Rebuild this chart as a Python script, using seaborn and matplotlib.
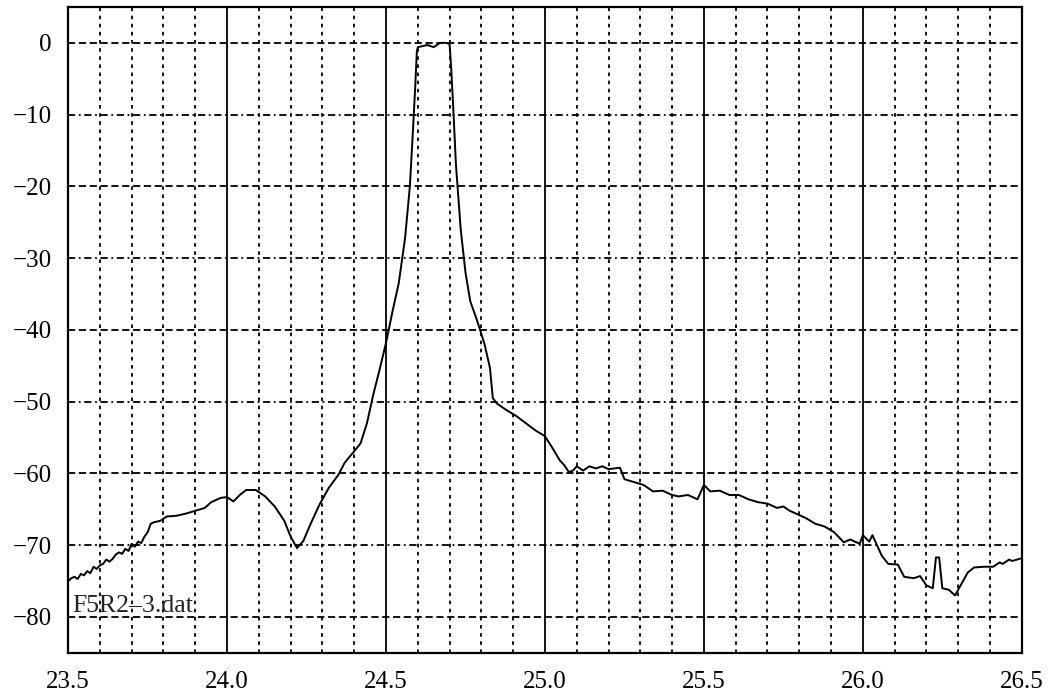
import numpy as np
import pandas as pd
import matplotlib
matplotlib.use("Agg")
import matplotlib.pyplot as plt
import seaborn as sns
from matplotlib.ticker import MultipleLocator, FormatStrFormatter

# spectrum (GHz, dB)
freq = [23.50, 23.51, 23.52, 23.53, 23.54, 23.55, 23.56, 23.57, 23.58, 23.59,
        23.60, 23.61, 23.62, 23.63, 23.64, 23.65, 23.66, 23.67, 23.68, 23.69,
        23.70, 23.71, 23.72, 23.73, 23.74, 23.75, 23.76, 23.77, 23.79, 23.81,
        23.84, 23.87, 23.90, 23.93, 23.95, 23.96, 23.98, 24.00, 24.02, 24.04,
        24.06, 24.09, 24.12, 24.15, 24.18, 24.20, 24.22, 24.24, 24.26, 24.29,
        24.32, 24.35, 24.37, 24.40, 24.42, 24.44, 24.46, 24.48, 24.50, 24.52,
        24.54, 24.56, 24.575, 24.585, 24.592, 24.597, 24.60, 24.63, 24.65, 24.67,
        24.69, 24.70, 24.705, 24.712, 24.72, 24.735, 24.75, 24.765, 24.785, 24.796,
        24.81, 24.827, 24.836, 24.85, 24.88, 24.91, 24.94, 24.97, 25.00, 25.02,
        25.047, 25.06, 25.075, 25.088, 25.10, 25.12, 25.14, 25.16, 25.18, 25.20,
        25.236, 25.25, 25.28, 25.31, 25.34, 25.37, 25.40, 25.42, 25.45, 25.48,
        25.50, 25.52, 25.55, 25.58, 25.61, 25.64, 25.67, 25.70, 25.73, 25.75,
        25.77, 25.79, 25.82, 25.85, 25.88, 25.91, 25.94, 25.96, 25.99, 26.00,
        26.02, 26.03, 26.06, 26.08, 26.11, 26.13, 26.16, 26.18, 26.20, 26.22,
        26.23, 26.24, 26.25, 26.27, 26.29, 26.31, 26.33, 26.35, 26.38, 26.41,
        26.43, 26.44, 26.46, 26.47, 26.50]
level = [-75.0, -74.6, -74.4, -74.7, -74.0, -74.2, -73.6, -73.9, -73.0, -73.3,
         -72.8, -72.6, -72.0, -72.3, -71.9, -71.3, -71.0, -71.2, -70.5, -70.8,
         -69.8, -70.2, -69.5, -69.7, -68.8, -68.2, -67.0, -66.8, -66.6, -66.0,
         -65.9, -65.6, -65.2, -64.8, -64.0, -63.8, -63.4, -63.3, -63.9, -63.0,
         -62.3, -62.3, -63.2, -64.6, -66.6, -68.8, -70.4, -69.4, -67.3, -64.4,
         -62.0, -60.2, -58.5, -56.9, -55.8, -53.0, -49.0, -45.5, -41.8, -37.5,
         -33.5, -27.2, -20.0, -12.0, -6.0, -1.2, -0.6, -0.3, -0.6, 0.0,
         0.0, -0.2, -3.5, -9.5, -17.0, -26.0, -32.0, -36.0, -38.5, -40.0,
         -42.0, -45.3, -49.5, -50.3, -51.2, -52.0, -53.0, -54.0, -54.8, -56.2,
         -58.2, -58.8, -59.8, -59.6, -59.0, -59.6, -59.0, -59.3, -59.0, -59.4,
         -59.2, -60.8, -61.2, -61.6, -62.5, -62.4, -63.0, -63.2, -63.0, -63.6,
         -61.6, -62.5, -62.4, -63.0, -63.0, -63.6, -64.0, -64.2, -64.8, -64.6,
         -65.2, -65.6, -66.2, -67.0, -67.4, -68.2, -69.6, -69.2, -69.8, -68.6,
         -69.5, -68.6, -71.5, -72.6, -72.7, -74.4, -74.6, -74.3, -75.6, -76.0,
         -71.7, -71.7, -76.0, -76.2, -77.0, -75.4, -73.8, -73.1, -73.0, -73.0,
         -72.4, -72.6, -72.0, -72.2, -71.8]
file_label = "F5R2\u20133.dat"

df = pd.DataFrame({"freq": freq, "level": level})

sns.set_style("white")
plt.rcParams["font.family"] = ["Liberation Serif", "DejaVu Serif"]

fig = plt.figure(figsize=(10.48, 6.99), dpi=100)
ax = fig.add_axes([0.065, 0.066, 0.910, 0.924])

sns.lineplot(data=df, x="freq", y="level", sort=False, color="black",
             linewidth=1.4, ax=ax, zorder=3)

ax.set_xlim(23.5, 26.5)
ax.set_ylim(-85, 5)
ax.xaxis.set_major_locator(MultipleLocator(0.5))
ax.xaxis.set_minor_locator(MultipleLocator(0.1))
ax.xaxis.set_major_formatter(FormatStrFormatter("%.1f"))
ax.yaxis.set_major_locator(MultipleLocator(10))
ax.set_xlabel("")
ax.set_ylabel("")

ax.grid(True, which="major", axis="x", color="black", linestyle="-", linewidth=1.3)
ax.grid(True, which="minor", axis="x", color="black", linestyle=(0, (2, 2.5)), linewidth=1.3)
ax.grid(True, which="major", axis="y", color="black", linewidth=1.3)
for val, gl in zip(ax.get_yticks(), ax.yaxis.get_gridlines()):
    if round(val) % 20 == 0:
        gl.set_dashes((4, 2))
    else:
        gl.set_dashes((4, 2, 1, 2))
ax.set_axisbelow(True)

ax.tick_params(axis="both", which="both", length=0, labelsize=18, colors="black")
ax.tick_params(axis="x", pad=13)
ax.tick_params(axis="y", pad=12)

for sp in ax.spines.values():
    sp.set_color("black")
    sp.set_linewidth(1.6)

ax.text(0.0045, 0.073, file_label, transform=ax.transAxes, fontsize=18.5,
        ha="left", va="center", color="#222222")

fig.savefig("out.png", dpi=100)
